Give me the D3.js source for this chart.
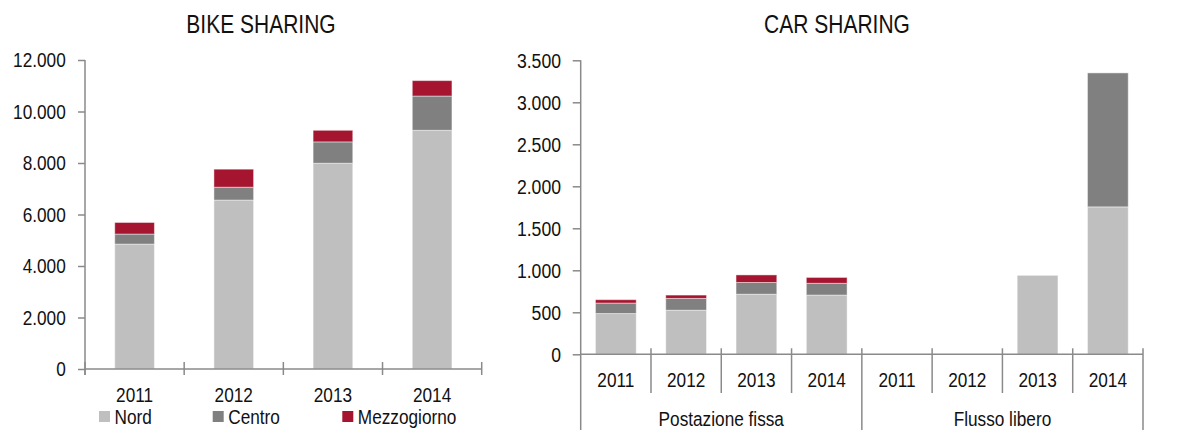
<!DOCTYPE html>
<html>
<head>
<meta charset="utf-8">
<script src="https://cdn.jsdelivr.net/npm/d3@7"></script>
<style>
  body { margin: 0; background: #fff; }
  text { font-family: "Liberation Sans", Arial, sans-serif; fill: #111; }
</style>
</head>
<body>
<script>
// ---------------------------------------------------------------
//  DATA
// ---------------------------------------------------------------
var years = ["2011", "2012", "2013", "2014"];
var series = ["Nord", "Centro", "Mezzogiorno"];

// bike sharing, by year
var bikeNord   = [4850, 6560, 7990, 9270];
var bikeCentro = [390, 500, 830, 1330];
var bikeMezz   = [450, 700, 450, 600];
var bikeTicks  = [0, 2000, 4000, 6000, 8000, 10000, 12000];

// car sharing, group x year
var carGroups = ["Postazione fissa", "Flusso libero"];
var carNord   = [485, 525, 715, 705,   0, 0, 940, 1755];
var carCentro = [125, 140, 140, 140,   0, 0,   0, 1595];
var carMezz   = [40,  40,  90,  70,    0, 0,   0,    0];
var carTicks  = [0, 500, 1000, 1500, 2000, 2500, 3000, 3500];

var colors = ["#bfbfbf", "#808080", "#a6152f"];
var axisColor = "#8a8a8a";
var squeeze = 0.84;   // no narrow font installed, so squeeze the normal one

var it = d3.formatLocale({decimal: ",", thousands: ".", grouping: [3], currency: ["€", ""]});
var fmt = it.format(",d");

var svg = d3.select("body").append("svg")
    .attr("width", 1179)
    .attr("height", 430);

// ---------------------------------------------------------------
//  BIKE SHARING
// ---------------------------------------------------------------
var bikeRows = years.map(function(y, i) {
    return {key: y, Nord: bikeNord[i], Centro: bikeCentro[i], Mezzogiorno: bikeMezz[i]};
});

var xB = d3.scaleBand().domain(years).range([85, 481.7]).paddingInner(0.6).paddingOuter(0.3);
var yB = d3.scaleLinear().domain([0, 12000]).range([369, 60]);

drawBars(bikeRows, xB, yB);

// y axis
var gyB = svg.append("g")
    .attr("transform", "translate(85,0)")
    .call(d3.axisLeft(yB).tickValues(bikeTicks).tickFormat(fmt).tickSize(7).tickPadding(12));
styleAxis(gyB, 20.5, 19.3);
gyB.select(".domain").remove();
vline(85, 60, 375);

// x axis
hline(85, 481.7, 369);
var stepB = xB.step();
d3.range(years.length + 1).forEach(function(i) {
    vline(85 + i * stepB, 362, 375);
});
years.forEach(function(d) {
    label(xB(d) + xB.bandwidth() / 2, 401.5, d, 20.5, "middle");
});

// title
label(261, 33, "BIKE SHARING", 25, "middle");

// legend
var legX = [99, 212.7, 342.3];
series.forEach(function(d, i) {
    svg.append("rect")
        .attr("x", legX[i]).attr("y", 411)
        .attr("width", 11).attr("height", 11)
        .attr("fill", colors[i]);
    label(legX[i] + 15.5, 423.5, d, 20.5, "start");
});

// ---------------------------------------------------------------
//  CAR SHARING
// ---------------------------------------------------------------
var carKeys = [];
carGroups.forEach(function(g) {
    years.forEach(function(y) { carKeys.push(g + "|" + y); });
});
var carRows = carKeys.map(function(k, i) {
    return {key: k, Nord: carNord[i], Centro: carCentro[i], Mezzogiorno: carMezz[i]};
});

var xC = d3.scaleBand().domain(carKeys).range([580.7, 1143]).paddingInner(0.42).paddingOuter(0.21);
var yC = d3.scaleLinear().domain([0, 3500]).range([354.3, 60.3]);

drawBars(carRows, xC, yC);

var gyC = svg.append("g")
    .attr("transform", "translate(580.7,0)")
    .call(d3.axisLeft(yC).tickValues(carTicks).tickFormat(fmt).tickSize(8).tickPadding(12));
styleAxis(gyC, 21, 19.7);
gyC.select(".domain").remove();

hline(580.7, 1143, 354.3);
var stepC = xC.step();
d3.range(carKeys.length + 1).forEach(function(i) {
    var x = 580.7 + i * stepC;
    vline(x, i == 0 ? 60.3 : 348.3, (i % years.length == 0) ? 430 : 393);
});
carKeys.forEach(function(d) {
    label(xC(d) + xC.bandwidth() / 2, 387, d.split("|")[1], 20.5, "middle");
});
carGroups.forEach(function(d, i) {
    label(580.7 + (i + 0.5) * years.length * stepC, 426, d, 20.5, "middle");
});

label(837, 33, "CAR SHARING", 25, "middle");

// ---------------------------------------------------------------
//  FUNCTIONS
// ---------------------------------------------------------------
function drawBars(rows, x, y) {
    var stacked = d3.stack().keys(series)(rows);
    svg.append("g").selectAll("g")
        .data(stacked)
        .join("g")
            .attr("fill", function(d, i) { return colors[i]; })
        .selectAll("rect")
        .data(function(d) { return d.filter(function(p) { return p[1] > p[0]; }); })
        .join("rect")
            .attr("x", function(d) { return x(d.data.key); })
            .attr("width", x.bandwidth())
            .attr("y", function(d) { return y(d[1]); })
            .attr("height", function(d) { return y(d[0]) - y(d[1]); })
            .attr("stroke", "#fff")
            .attr("stroke-opacity", 0.45)
            .attr("stroke-width", 1);
}

// text squeezed horizontally to look like the narrow font of the original
function label(x, y, str, size, anchor) {
    return svg.append("text")
        .attr("transform", "translate(" + x + "," + y + ") scale(" + squeeze + ",1)")
        .attr("text-anchor", anchor)
        .style("font-size", size + "px")
        .text(str);
}

function styleAxis(g, size, gap) {
    g.attr("font-family", null).attr("font-size", null);
    g.selectAll(".tick line").attr("stroke", axisColor).attr("stroke-width", 1.5);
    g.selectAll(".tick text")
        .attr("fill", "#111")
        .attr("x", -gap / squeeze)
        .attr("transform", "scale(" + squeeze + ",1)")
        .style("font-size", size + "px");
}

function vline(x, y1, y2) {
    svg.append("line")
        .attr("x1", x).attr("x2", x).attr("y1", y1).attr("y2", y2)
        .attr("stroke", axisColor).attr("stroke-width", 1.5);
}

function hline(x1, x2, y) {
    svg.append("line")
        .attr("x1", x1).attr("x2", x2).attr("y1", y).attr("y2", y)
        .attr("stroke", axisColor).attr("stroke-width", 1.5);
}
</script>
</body>
</html>
